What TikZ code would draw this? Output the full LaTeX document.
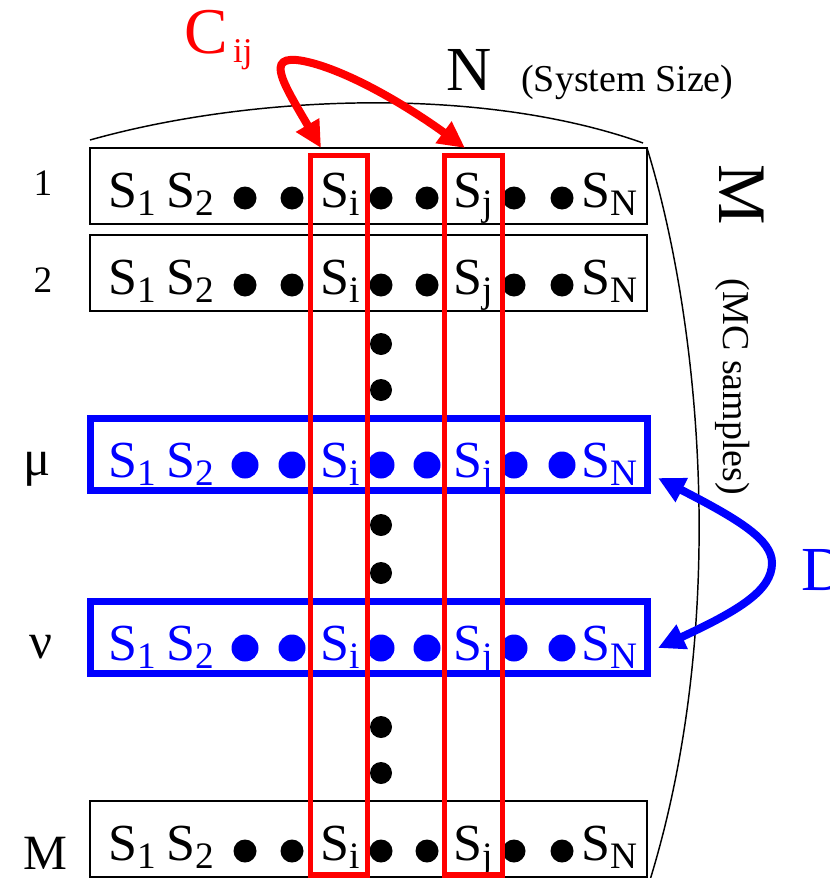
\documentclass[tikz,border=0pt]{standalone}
\usepackage{fontspec}
\setmainfont{Liberation Serif}
\usetikzlibrary{arrows.meta}
\definecolor{pred}{RGB}{255,0,0}
\definecolor{pblue}{RGB}{0,0,255}
\newcommand\subsc[1]{\raisebox{-6pt}{\fontsize{28}{28}\selectfont #1}}
\tikzset{
  stext/.style={anchor=base west,inner sep=0pt,font=\fontsize{39}{39}\selectfont},
  lab/.style={anchor=base,inner sep=0pt},
  rowbox/.style={draw=black,line width=1.5pt},
  bluebox/.style={draw=pblue,line width=5.25pt},
  colbox/.style={draw=pred,line width=4pt},
  brace/.style={draw=black,line width=1.1pt},
  redarrow/.style={draw=pred,line width=6pt,{Triangle[length=20pt,width=19pt]}-{Triangle[length=20pt,width=19pt]}},
  bluearrow/.style={draw=pblue,line width=6pt,{Triangle[length=20pt,width=19pt]}-{Triangle[length=20pt,width=19pt]}},
}
% #1 name, #2 top, #3 bottom, #4 baseline, #5 colour, #6 box style, #7 dot radius, #8 dot rise
\newcommand\samplerow[8]{%
  \draw[#6] (90,#2) rectangle (647,#3);
  \node[stext,text=#5] (#1-1) at (108,#4) {S\subsc{1}};
  \node[stext,text=#5] (#1-2) at (166,#4) {S\subsc{2}};
  \node[stext,text=#5] (#1-i) at (320,#4) {S\subsc{i}};
  \node[stext,text=#5] (#1-j) at (453,#4) {S\subsc{j}};
  \node[stext,text=#5] (#1-n) at (581,#4) {S\subsc{N}};
  \foreach \dx in {245,292,381,427,514,562}{\fill[#5] (\dx,#4-#8) circle[radius=#7];}
}
\begin{document}
\begin{tikzpicture}[x=0.75pt,y=-0.75pt]
\useasboundingbox (0,0) rectangle (830,878);
\fill[white] (0,0) rectangle (830,878);
% rows
\samplerow{r1}{148}{224}{207}{black}{rowbox}{11.5}{9}
\samplerow{r2}{235}{311}{294}{black}{rowbox}{11.5}{9}
\samplerow{rmu}{418.5}{490.5}{477}{pblue}{bluebox}{13.5}{12}
\samplerow{rnu}{601.5}{673.5}{660}{pblue}{bluebox}{13.5}{12}
\samplerow{rM}{801}{877}{860}{black}{rowbox}{11.5}{9}
% vertical dots
\foreach \dy in {344,390,525,573,727,773}{\fill[black] (381,\dy) circle[radius=11];}
% row labels
\node[lab,font=\fontsize{28}{28}\selectfont] (l1) at (43,195) {1};
\node[lab,font=\fontsize{28}{28}\selectfont] (l2) at (43,292) {2};
\node[lab,font=\fontsize{38}{38}\selectfont] (lmu) at (37,475) {μ};
\node[lab,font=\fontsize{38}{38}\selectfont] (lnu) at (41,658) {ν};
\node[lab,font=\fontsize{37}{37}\selectfont] (lM) at (45,869) {M};
% column boxes
\draw[colbox] (310.5,155.5) rectangle (367.5,875);
\draw[colbox] (444.5,155.5) rectangle (502.5,875);
% braces
\draw[brace] (90,140) .. controls (250,95) and (480,85) .. (643,143);
\draw[brace] (647,148) .. controls (700,320) and (730,620) .. (650,880);
% top labels
\node[anchor=base west,inner sep=0pt,font=\fontsize{47}{47}\selectfont] (N) at (446,90) {N};
\node[anchor=base west,inner sep=0pt,font=\fontsize{28.5}{28.5}\selectfont] (sys) at (521,91) {(System Size)};
\node[anchor=base west,inner sep=0pt,text=pred,font=\fontsize{49}{49}\selectfont] (C) at (184,53) {C\kern4pt\raisebox{-6.75pt}{\fontsize{26}{26}\selectfont ij}};
% right labels
\node[rotate=-90,inner sep=0pt,font=\fontsize{51}{51}\selectfont] (Mr) at (742,195) {M};
\node[rotate=-90,inner sep=0pt,font=\fontsize{28.5}{28.5}\selectfont] (mcs) at (733,387) {(MC samples)};
\node[anchor=base west,inner sep=0pt,text=pblue,font=\fontsize{47}{47}\selectfont] (D) at (801,590) {D};
% connectors
\coordinate (ci) at (321,148);
\coordinate (cj) at (465,148);
\draw[redarrow] (ci) .. controls (280,78) and (262,50) .. (312,63) .. controls (360,76) and (420,115) .. (cj);
\coordinate (dm) at (658,478);
\coordinate (dn) at (658,648);
\draw[bluearrow] (dm) .. controls (740,520) and (772,540) .. (772,563) .. controls (772,590) and (740,610) .. (dn);
\end{tikzpicture}
\end{document}
